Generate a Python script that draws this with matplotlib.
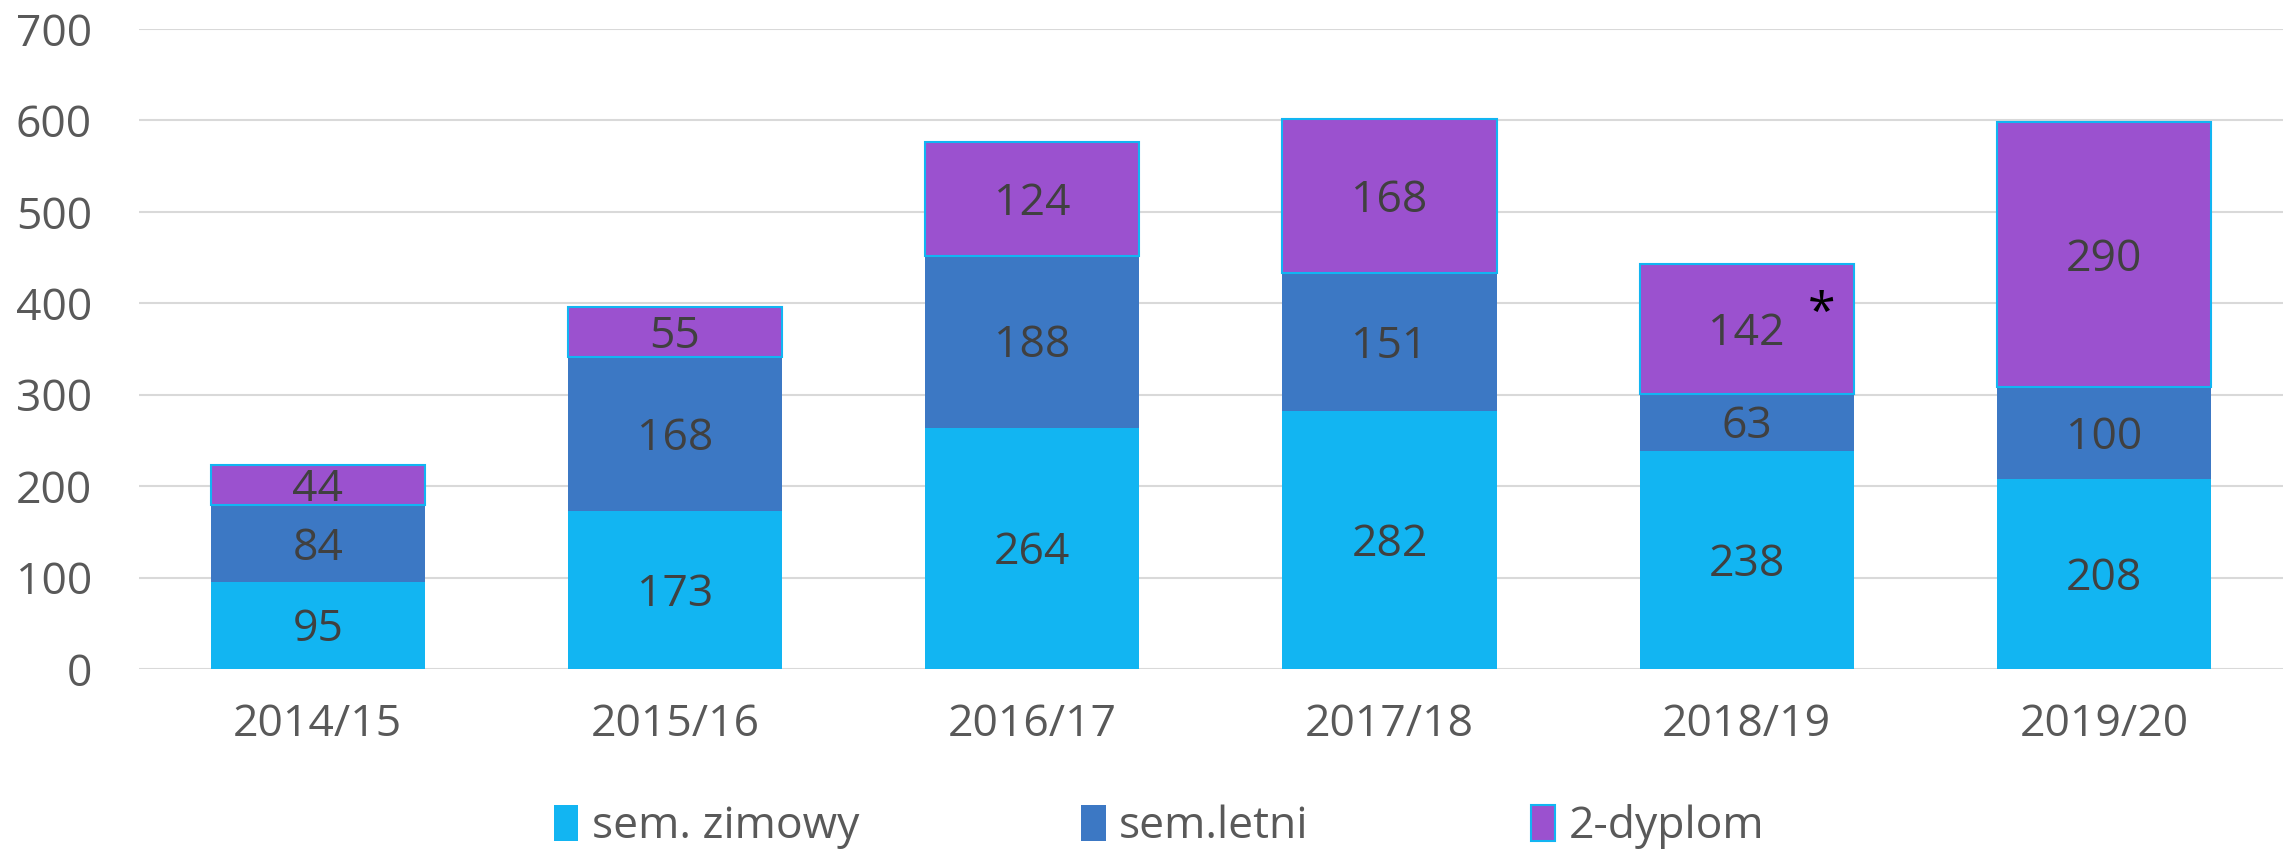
import matplotlib.pyplot as plt
import numpy as np

# data
years = ["2014/15", "2015/16", "2016/17", "2017/18", "2018/19", "2019/20"]
zimowy = [95, 173, 264, 282, 238, 208]
letni = [84, 168, 188, 151, 63, 100]
dyplom = [44, 55, 124, 168, 142, 290]
labels = ["sem. zimowy", "sem.letni", "2-dyplom"]

plt.rcParams['font.family'] = ['Open Sans', 'DejaVu Sans']

c_zim = '#12B5F2'
c_let = '#3C78C4'
c_dyp = '#9B51CF'
txt = '#404040'
tick_c = '#595959'

fig = plt.figure(figsize=(22.95, 8.49), dpi=100)
ax = fig.add_axes([0.0606, 0.212, 0.934, 0.754])

x = np.arange(len(years))
w = 0.6
zim = np.array(zimowy)
let = np.array(letni)
dyp = np.array(dyplom)

b1 = ax.bar(x, zim, w, color=c_zim, label=labels[0], zorder=3)
b2 = ax.bar(x, let, w, bottom=zim, color=c_let, label=labels[1], zorder=3)
b3 = ax.bar(x, dyp, w, bottom=zim + let, color=c_dyp, edgecolor=c_zim,
            linewidth=1.5, label=labels[2], zorder=3)

for vals, bot in [(zim, 0 * zim), (let, zim), (dyp, zim + let)]:
    for i, v in enumerate(vals):
        ax.text(x[i], bot[i] + v / 2 - 5, str(v), ha='center', va='center',
                fontsize=32, color=txt, zorder=4)

# footnote mark on 2018/19
ax.text(x[4] + 0.21, zim[4] + let[4] + dyp[4] - 56, "*", ha='center', va='center',
        fontsize=36, color='black', zorder=5)

ax.set_xlim(-0.5, len(years) - 0.5)
ax.set_ylim(0, 700)
ax.set_yticks(range(0, 701, 100))
ax.set_xticks(x)
ax.set_xticklabels(years)
ax.tick_params(axis='both', length=0, labelsize=32, colors=tick_c)
ax.tick_params(axis='x', pad=24)
ax.tick_params(axis='y', pad=34)
ax.grid(axis='y', color='#D9D9D9', linewidth=1.5, zorder=0)
for s in ax.spines.values():
    s.set_visible(False)

leg = fig.legend(handles=[b1, b2, b3], labels=labels, loc='center',
                 bbox_to_anchor=(0.505, 0.026), ncol=3, frameon=False,
                 fontsize=32, handlelength=0.55, handleheight=0.85,
                 handletextpad=0.3, columnspacing=5.0, labelcolor=tick_c)

fig.savefig("out.png", dpi=100)
